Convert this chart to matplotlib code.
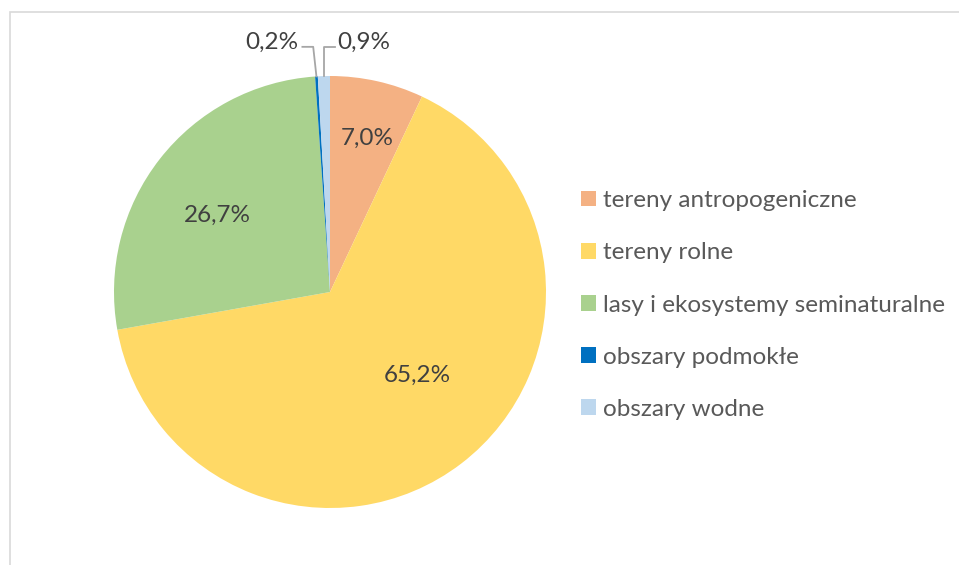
import numpy as np
import matplotlib
matplotlib.use("Agg")
import matplotlib.pyplot as plt
from matplotlib.patches import Rectangle

categories = ["tereny antropogeniczne", "tereny rolne", "lasy i ekosystemy seminaturalne",
              "obszary podmokłe", "obszary wodne"]
values = [7.0, 65.2, 26.7, 0.2, 0.9]
labels = ["7,0%", "65,2%", "26,7%", "0,2%", "0,9%"]
colors = ["#F4B183", "#FFD966", "#A9D18E", "#0070C0", "#BDD7EE"]

plt.rcParams['font.family'] = ['Lato', 'DejaVu Sans']

W, H = 959, 565
fig = plt.figure(figsize=(W / 100, H / 100), dpi=100)
fig.patch.set_facecolor("white")

# outer chart border (extends beyond right and bottom edges)
fig.patches.append(Rectangle((10 / W, -0.1), 1.2, 1 - 12 / H + 0.1, transform=fig.transFigure,
                             fill=False, edgecolor="#D9D9D9", linewidth=1.2))

cx, cy, r = 330, 292, 216
ax = fig.add_axes([(cx - r) / W, (H - cy - r) / H, 2 * r / W, 2 * r / H])
wedges, _ = ax.pie(values, colors=colors, startangle=90, counterclock=False,
                   wedgeprops=dict(linewidth=0))
ax.set_xlim(-1, 1)
ax.set_ylim(-1, 1)
ax.set_aspect("equal")
ax.axis("off")

FS = 17.5
# inside labels: radius and angle offset (deg) per slice
inside = {0: (0.73, -1.0), 1: (0.56, 9.0), 2: (0.63, 3.5)}
for i, (rad, off) in inside.items():
    w = wedges[i]
    ang = np.deg2rad((w.theta1 + w.theta2) / 2 + off)
    ax.text(rad * np.cos(ang), rad * np.sin(ang), labels[i], ha="center", va="center",
            fontsize=FS, color="#404040")

# outside labels with leader lines
ytxt = 1.155
yline = 1.135
for i, side in [(3, "left"), (4, "right")]:
    w = wedges[i]
    ang = np.deg2rad((w.theta1 + w.theta2) / 2)
    x0, y0 = np.cos(ang), np.sin(ang)
    if side == "left":
        xe = x0 - 0.065
        ax.plot([x0, x0 - 0.015, xe], [y0, yline, yline], color="#A6A6A6", lw=1.3, clip_on=False)
        ax.text(xe - 0.02, ytxt, labels[i], ha="right", va="center", fontsize=FS, color="#404040")
    else:
        xe = x0 + 0.05
        ax.plot([x0, x0, xe], [y0, yline, yline], color="#A6A6A6", lw=1.3, clip_on=False)
        ax.text(xe + 0.01, ytxt, labels[i], ha="left", va="center", fontsize=FS, color="#404040")

# legend
handles = [Rectangle((0, 0), 1, 1, facecolor=c, edgecolor="none") for c in colors]
leg = fig.legend(handles, categories, loc="center left", bbox_to_anchor=(569 / W, 1 - 305 / H),
                 frameon=False, fontsize=FS, labelcolor="#595959", handlelength=0.6,
                 handleheight=0.6, handletextpad=0.3, labelspacing=1.28, borderpad=0)

fig.savefig("out.png", dpi=100, facecolor="white")
